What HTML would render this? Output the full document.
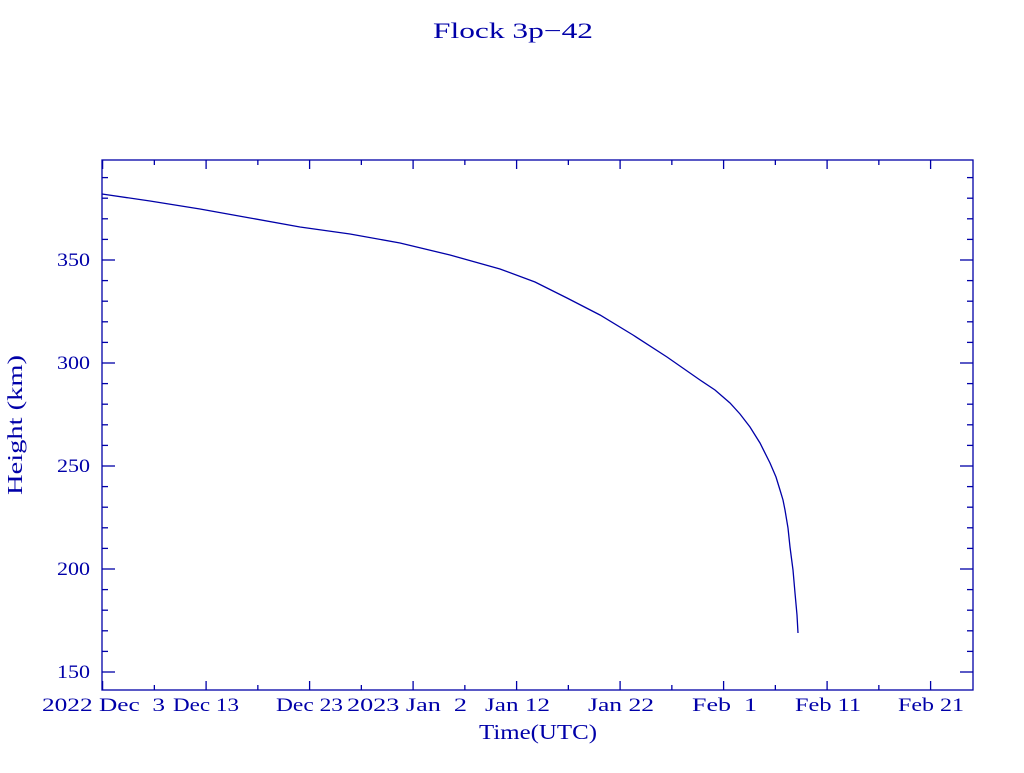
<!DOCTYPE html>
<html><head><meta charset="utf-8"><style>
body{margin:0;background:#fff;width:1024px;height:768px;overflow:hidden}
svg text{font-family:"Liberation Serif",serif;fill:#0000a8;font-size:19px;white-space:pre}
</style></head><body>
<svg id="s" width="1024" height="768" xmlns="http://www.w3.org/2000/svg" xml:space="preserve">
<rect x="102" y="160" width="871" height="530" fill="none" stroke="#0000a8" stroke-width="1.3"/>
<text x="433" y="38" textLength="160" lengthAdjust="spacingAndGlyphs" style="font-size:22px">Flock 3p−42</text>
<text x="479" y="739" textLength="118" lengthAdjust="spacingAndGlyphs" style="font-size:21px">Time(UTC)</text>
<text transform="translate(22,495) rotate(-90)" textLength="140" lengthAdjust="spacingAndGlyphs" style="font-size:21px">Height (km)</text>
<g>
<text x="57" y="266" textLength="33" lengthAdjust="spacingAndGlyphs">350</text>
<text x="57" y="369" textLength="33" lengthAdjust="spacingAndGlyphs">300</text>
<text x="57" y="472" textLength="33" lengthAdjust="spacingAndGlyphs">250</text>
<text x="57" y="575" textLength="33" lengthAdjust="spacingAndGlyphs">200</text>
<text x="57" y="678" textLength="33" lengthAdjust="spacingAndGlyphs">150</text>
</g>
<g>
<text x="42" y="711" textLength="123" lengthAdjust="spacingAndGlyphs">2022 Dec  3</text>
<text x="173" y="711" textLength="66" lengthAdjust="spacingAndGlyphs">Dec 13</text>
<text x="276" y="711" textLength="67" lengthAdjust="spacingAndGlyphs">Dec 23</text>
<text x="347" y="711" textLength="120" lengthAdjust="spacingAndGlyphs">2023 Jan  2</text>
<text x="485" y="711" textLength="65" lengthAdjust="spacingAndGlyphs">Jan 12</text>
<text x="588" y="711" textLength="66" lengthAdjust="spacingAndGlyphs">Jan 22</text>
<text x="692" y="711" textLength="65" lengthAdjust="spacingAndGlyphs">Feb  1</text>
<text x="795" y="711" textLength="66" lengthAdjust="spacingAndGlyphs">Feb 11</text>
<text x="898" y="711" textLength="66" lengthAdjust="spacingAndGlyphs">Feb 21</text>
</g>
<g id="t" stroke="#0000a8" stroke-width="1.3"></g>
<polyline fill="none" stroke="#0000a8" stroke-width="1.3" points="102,194 150,201 200,209 250,218 300,227 350,234 400,243 450,255 500,269 535,282 567,298 600,315 633,335 667,357 700,380 715,390 730,403 740,414 750,427 760,443 770,463 776,477 780,490 783,500 785,510 788,528 790,547 793,570 795,593 797,615 798,633"/>
</svg>
<script>
var g=document.getElementById('t'),h='';
function L(a,b,c,d){h+='<line x1="'+a+'" y1="'+b+'" x2="'+c+'" y2="'+d+'"/>';}
for(var i=0;i<18;i++){var x=102.6+i*51.75;if(x>972)break;var len=i%2==0?9:5;L(x,690,x,690-len);L(x,160,x,160+len);}
for(var v=150;v<=390;v+=10){var y=672-(v-150)*2.06;var len=v%50==0?13:6;L(102,y,102+len,y);L(973,y,973-len,y);}
g.innerHTML=h;
</script>
</body></html>
